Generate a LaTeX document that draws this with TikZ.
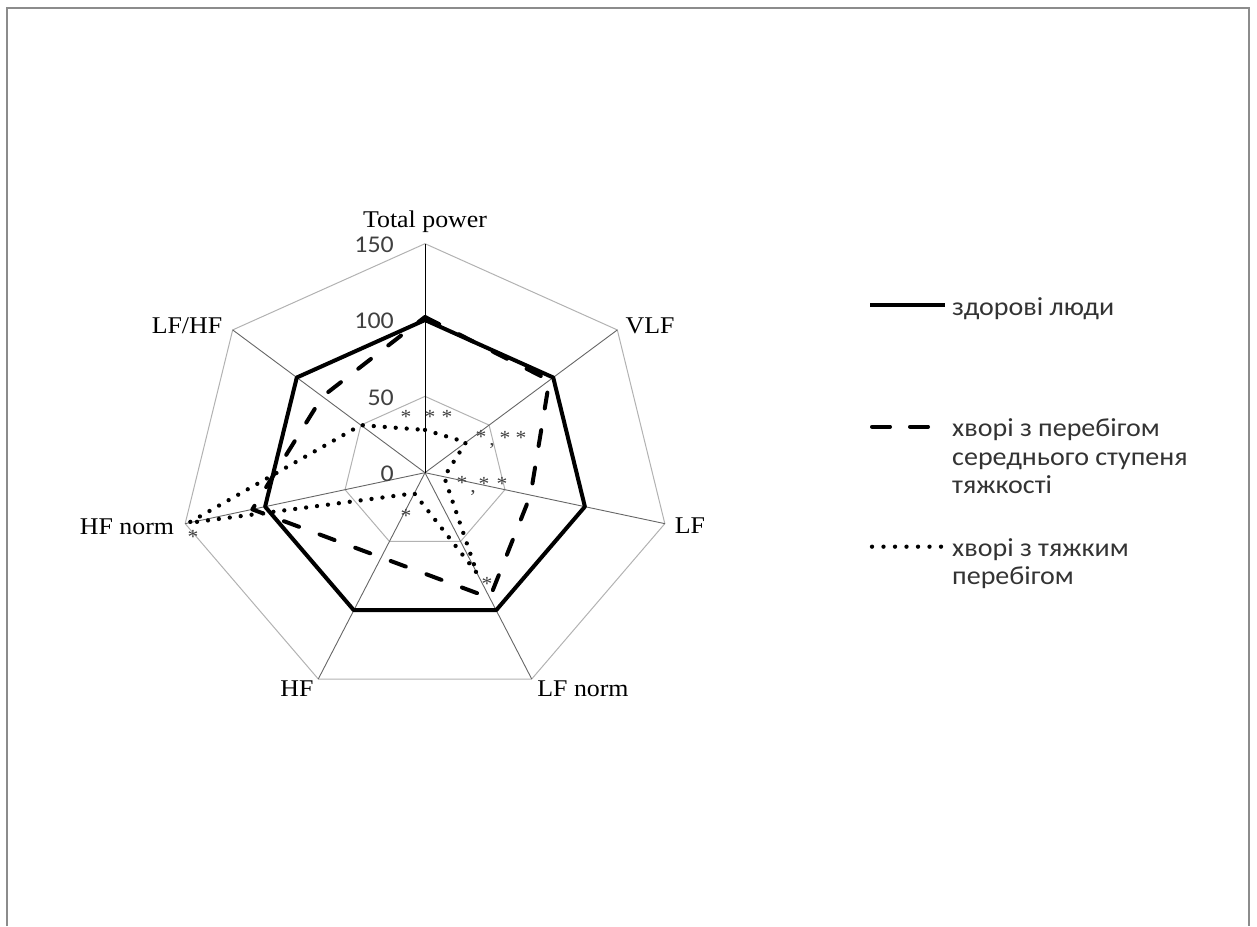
\documentclass[tikz,border=0pt]{standalone}
\usepackage{fontspec}
\setmainfont{Liberation Serif}[FakeStretch=1.078]
\newfontfamily\numfont{Carlito}[FakeStretch=1.078]
\newfontfamily\legfont{Carlito}[FakeStretch=1.078]
\begin{document}
\begin{tikzpicture}[x=1pt,y=1pt,
  gridline/.style={draw=black!30,line width=1pt},
  spoke/.style={draw=black!60,line width=0.9pt},
  healthy/.style={draw=black,line width=4pt,line join=round},
  moderate/.style={draw=black,line width=4pt,dash pattern=on 16pt off 22pt,line cap=round,line join=round},
  severe/.style={draw=black,line width=4.3pt,dash pattern=on 0pt off 11pt,line cap=round},
  axlabel/.style={font=\fontsize{24}{28}\selectfont,inner sep=0pt},
  numlabel/.style={font=\numfont\fontsize{24}{28}\selectfont,text=black!75,anchor=east,inner sep=0pt},
  starlbl/.style={font=\fontsize{20}{22}\selectfont,text=black!75,inner sep=0pt},
  legtext/.style={font=\legfont\fontsize{26}{28}\selectfont,text=black!80,anchor=base west,inner sep=0pt},
  framebox/.style={draw=black!45,line width=2pt}]

\useasboundingbox (0,0) rectangle (1257,926);
\draw[framebox] (7,0) -- (7,918) -- (1249,918) -- (1249,0);

\begin{scope}[shift={(425,453.3)},x=1.64pt,y=1.5267pt]
  \coordinate (c) at (0,0);
  % grid polygons
  \foreach \r in {50,100,150}{
    \draw[gridline] (90:\r) -- (38.571:\r) -- (-12.857:\r) -- (-64.286:\r) -- (-115.714:\r) -- (-167.143:\r) -- (-218.571:\r) -- cycle;
  }
  % spokes
  \foreach \a/\n in {38.571/vlf,-12.857/lf,-64.286/lfn,-115.714/hf,-167.143/hfn,-218.571/lfhf}{
    \coordinate (\n) at (\a:150);
    \draw[spoke] (c) -- (\n);
  }
  \coordinate (tp) at (90:150);
  \draw[black,line width=1pt] (c) -- (tp);
  % healthy
  \draw[healthy] (90:100) -- (38.571:100) -- (-12.857:100) -- (-64.286:100) -- (-115.714:100) -- (-167.143:100) -- (-218.571:100) -- cycle;
  % moderate
  \draw[moderate] (90:102) -- (38.571:97) -- (-12.857:66) -- (-64.286:91) -- (-115.714:61.6) -- (-167.143:108) -- (-218.571:80) -- cycle;
  % severe
  \draw[severe] (90:28) -- (38.571:32) -- (-12.857:12) -- (-64.286:73) -- (-115.714:15) -- (-167.143:148) -- (-218.571:50) -- cycle;
\end{scope}

% axis value labels
\node[numlabel] (n150) at (394,681) {150};
\node[numlabel] (n100) at (394,605) {100};
\node[numlabel] (n50) at (394,528) {50};
\node[numlabel] (n0) at (394,452) {0};

% category labels
\node[axlabel] (ltp) at (425,704) {Total power};
\node[axlabel] (lvlf) at (650,600) {VLF};
\node[axlabel] (llf) at (690,400) {LF};
\node[axlabel] (llfn) at (583,237) {LF norm};
\node[axlabel] (lhf) at (297,237) {HF};
\node[axlabel] (lhfn) at (127,399) {HF norm};
\node[axlabel] (llfhf) at (187,600) {LF/HF};

% significance marks
\node[starlbl] (s1) at (406,509) {*};
\node[starlbl] (s2) at (430,509) {*};
\node[starlbl] (s3) at (447,509) {*};
\node[starlbl] (s4) at (481,489) {*};
\node[starlbl] (s5) at (505,488) {*};
\node[starlbl] (s6) at (521,488) {*};
\node[starlbl] (s7) at (492,480) {,};
\node[starlbl] (s8) at (462,443) {*};
\node[starlbl] (s9) at (484,442) {*};
\node[starlbl] (s10) at (502,442) {*};
\node[starlbl] (s11) at (473,433) {,};
\node[starlbl] (s12) at (406,410) {*};
\node[starlbl] (s13) at (487,342) {*};
\node[starlbl] (s14) at (193,389) {*};

% legend
\coordinate (la1) at (870,621);
\coordinate (lb1) at (945,621);
\draw[black,line width=4pt] (la1) -- (lb1);
\node[legtext] (t1) at (952,610) {здорові люди};

\coordinate (la2) at (872,499.3);
\coordinate (lb2) at (929,499.3);
\draw[black,line width=4pt,line cap=round,dash pattern=on 18pt off 20pt] (la2) -- (lb2);
\node[legtext] (t2) at (952,489) {хворі з перебігом};
\node[legtext] (t3) at (952,460.5) {середнього ступеня};
\node[legtext] (t4) at (952,432) {тяжкості};

\coordinate (la3) at (872,379.3);
\coordinate (lb3) at (941,379.3);
\draw[black,line width=4.3pt,line cap=round,dash pattern=on 0pt off 11.5pt] (la3) -- (lb3);
\node[legtext] (t5) at (952,369.3) {хворі з тяжким};
\node[legtext] (t6) at (952,341) {перебігом};
\end{tikzpicture}
\end{document}
